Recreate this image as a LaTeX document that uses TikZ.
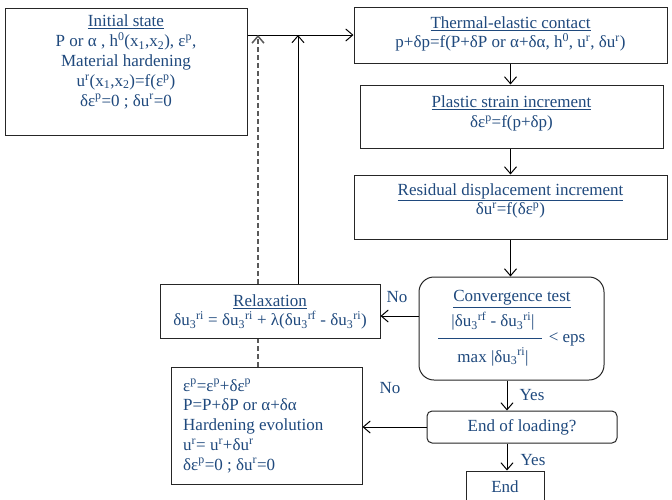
\documentclass[tikz,border=0pt]{standalone}
\usepackage{fontspec}
\setmainfont{Liberation Serif}
\usetikzlibrary{arrows.meta}
\definecolor{txtblue}{RGB}{31,73,125}
\begin{document}
\begin{tikzpicture}[x=1pt,y=-1pt,
  box/.style={draw=black!85, line width=1pt, fill=white, inner sep=0pt},
  txt/.style={text=txtblue, font=\fontsize{17}{19.8}\selectfont, align=center, inner sep=0pt},
  lbl/.style={text=txtblue, font=\fontsize{17}{19.8}\selectfont, inner sep=0pt},
  arr/.style={line width=1pt, -{Straight Barb[length=7pt,width=12pt]}},
  dashline/.style={line width=1.5pt, draw=black!65, dash pattern=on 5pt off 3pt},
]
\useasboundingbox (0,0) rectangle (672,499);

% boxes
\node[box, minimum width=242pt, minimum height=127pt] (init) at (126,71.5) {};
\node[box, minimum width=313pt, minimum height=56pt] (therm) at (510.5,35) {};
\node[box, minimum width=303pt, minimum height=63pt] (plast) at (511.5,116.5) {};
\node[box, minimum width=313pt, minimum height=64pt] (resid) at (510.5,207) {};
\node[box, rounded corners=15pt, minimum width=185pt, minimum height=103pt] (conv) at (511.5,328.5) {};
\node[box, minimum width=220pt, minimum height=54pt] (relax) at (270,311) {};
\node[box, minimum width=191pt, minimum height=117pt] (update) at (266.5,425.5) {};
\node[box, rounded corners=5pt, minimum width=190pt, minimum height=32pt] (endload) at (522,427) {};
\node[box, minimum width=78pt, minimum height=50pt] (endb) at (505,496) {};

% texts
\node[txt] (tinit) at (126,62) {\underline{Initial state}\\
P or α , h\textsuperscript{0}(x\textsubscript{1},x\textsubscript{2}), ε\textsuperscript{p},\\
Material hardening\\
u\textsuperscript{r}(x\textsubscript{1},x\textsubscript{2})=f(ε\textsuperscript{p})\\
δε\textsuperscript{p}=0 ; δu\textsuperscript{r}=0};
\node[txt] (ttherm) at (510.5,34) {\underline{Thermal-elastic contact}\\
p+δp=f(P+δP or α+δα, h\textsuperscript{0}, u\textsuperscript{r}, δu\textsuperscript{r})};
\node[txt] (tplast) at (511.5,113.5) {\underline{Plastic strain increment}\\
δε\textsuperscript{p}=f(p+δp)};
\node[txt] (tresid) at (510.5,201) {\underline{Residual displacement increment}\\
δu\textsuperscript{r}=f(δε\textsuperscript{p})};
\node[txt] (trelax) at (270,312) {\underline{Relaxation}\\
δu\textsubscript{3}\textsuperscript{ri} = δu\textsubscript{3}\textsuperscript{ri} + λ(δu\textsubscript{3}\textsuperscript{rf} - δu\textsubscript{3}\textsuperscript{ri})};
\node[txt, align=left, anchor=west] (tupdate) at (183,426) {ε\textsuperscript{p}=ε\textsuperscript{p}+δε\textsuperscript{p}\\
P=P+δP or α+δα\\
Hardening evolution\\
u\textsuperscript{r}= u\textsuperscript{r}+δu\textsuperscript{r}\\
δε\textsuperscript{p}=0 ; δu\textsuperscript{r}=0};
\node[txt] (tconv) at (512,299) {\underline{Convergence test}};
\node[txt] (tnum) at (493,321) {|δu\textsubscript{3}\textsuperscript{rf} - δu\textsubscript{3}\textsuperscript{ri}|};
\node[txt] (tden) at (493,357) {max |δu\textsubscript{3}\textsuperscript{ri}|};
\node[txt] (teps) at (567,339) {< eps};
\coordinate (fl) at (438,338);
\coordinate (fr) at (542,338);
\draw[txtblue, line width=0.9pt] (fl) -- (fr);
\node[txt] (tendload) at (522,427) {End of loading?};
\node[txt] (tend) at (505,487) {End};

% labels
\node[lbl] (no1) at (397,297) {No};
\node[lbl] (yes1) at (532,395) {Yes};
\node[lbl] (no2) at (390,388) {No};
\node[lbl] (yes2) at (533,460) {Yes};

% connectors
\coordinate (dtop) at (258,35);
\coordinate (stop) at (298,35);
\coordinate (colB) at (507,0);
\draw[arr] (init.east |- therm.west) -- (therm.west);
\draw[arr] (therm.south) -- (plast.north -| therm.south);
\draw[arr] (plast.south -| therm.south) -- (resid.north);
\draw[arr] (resid.south) -- (conv.north -| resid.south);
\draw[arr] ([yshift=-5pt]conv.west |- relax.east) -- ([yshift=-5pt]relax.east);
\draw[arr] (relax.north -| stop) -- (stop);
\draw[dashline] (update.north -| dtop) -- (relax.south -| dtop);
\draw[dashline, arr, line width=1.5pt] (relax.north -| dtop) -- (dtop);
\draw[arr] (conv.south -| colB) -- (endload.north -| colB);
\draw[arr] (endload.west) -- (endload.west -| update.east);
\draw[arr] (endload.south -| colB) -- (endb.north -| colB);
\end{tikzpicture}
\end{document}
